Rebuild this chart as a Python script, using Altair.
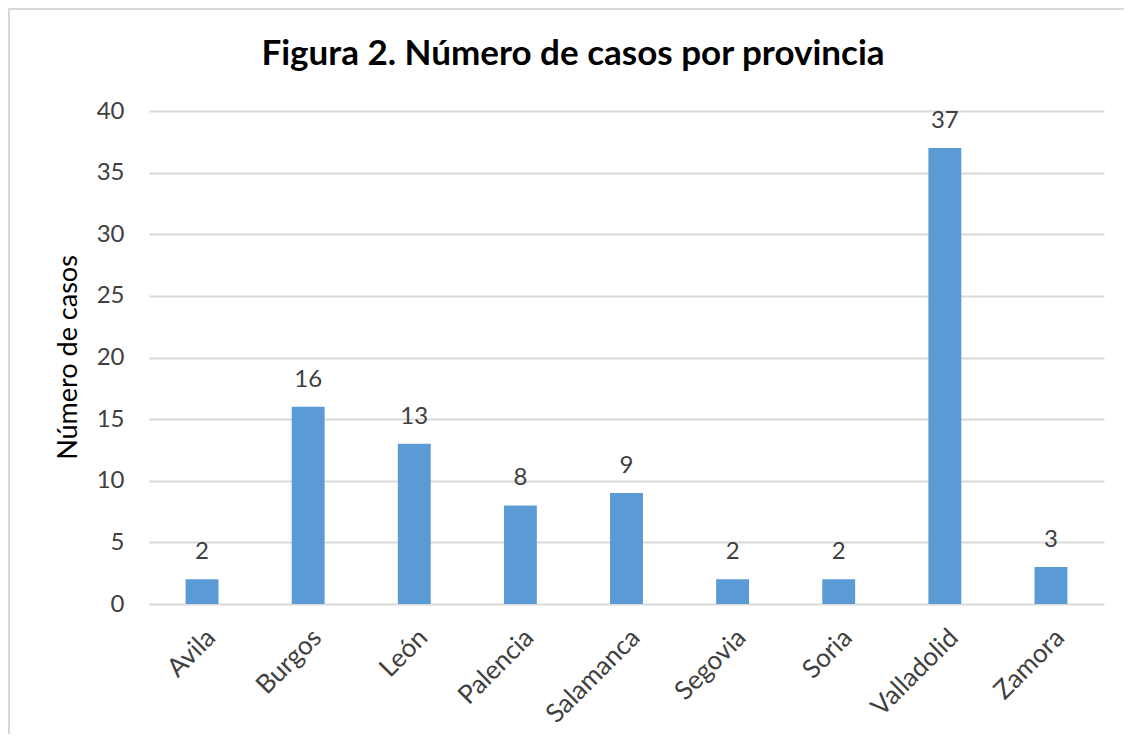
import altair as alt
import pandas as pd

provincias = ["Avila", "Burgos", "León", "Palencia", "Salamanca", "Segovia", "Soria", "Valladolid", "Zamora"]
casos = [2, 16, 13, 8, 9, 2, 2, 37, 3]
y_ticks = [0, 5, 10, 15, 20, 25, 30, 35, 40]
titulo = "Figura 2. Número de casos por provincia"

df = pd.DataFrame({"provincia": provincias, "casos": casos})

FONT = "Lato"
TXT = "#404040"

x_enc = alt.X("provincia:N", sort=provincias,
              scale=alt.Scale(paddingInner=0.69, paddingOuter=0.345),
              axis=alt.Axis(title=None, labelAngle=-45, labelAlign="right", labelBaseline="top",
                            labelPadding=20, labelFontSize=26, labelColor=TXT, labelFont=FONT,
                            domain=False, ticks=False, grid=False))
y_enc = alt.Y("casos:Q", scale=alt.Scale(domain=[0, 40], nice=False),
              axis=alt.Axis(title="Número de casos", values=y_ticks, titleFontSize=27,
                            titleFont=FONT, titleFontWeight="normal", titleColor="#000000",
                            titleAngle=-90, titleX=-81, titleY=246, titleAlign="center",
                            titleBaseline="middle",
                            labelFontSize=24, labelColor=TXT, labelFont=FONT, labelPadding=25,
                            domain=False, ticks=False, gridColor="#D9D9D9", gridWidth=2))

bars = alt.Chart(df).mark_bar(color="#5B9BD5").encode(x=x_enc, y=y_enc)
labels = alt.Chart(df).mark_text(baseline="alphabetic", dy=-20, fontSize=24, font=FONT, color=TXT).encode(
    x=alt.X("provincia:N", sort=provincias), y="casos:Q", text="casos:Q")

title_mark = alt.Chart(pd.DataFrame({"t": [titulo]})).mark_text(
    fontSize=35, font=FONT, fontWeight="bold", color="#000000", align="center", baseline="alphabetic"
).encode(x=alt.value(424), y=alt.value(-46), text="t:N")

border_top = alt.Chart(df).mark_rule(color="#D9D9D9", strokeWidth=2).encode(
    x=alt.value(-141), x2=alt.value(990), y=alt.value(-102))
border_left = alt.Chart(df).mark_rule(color="#D9D9D9", strokeWidth=2).encode(
    x=alt.value(-140), y=alt.value(-103), y2=alt.value(640))

chart = alt.layer(border_top, border_left, title_mark, bars, labels).properties(
    width=955, height=493,
    autosize=alt.AutoSizeParams(type="none"),
    padding={"left": 141, "top": 103, "right": 20, "bottom": 130},
).configure_view(stroke=None)

chart.save("out.html", embed_options={"renderer": "svg", "actions": False})
